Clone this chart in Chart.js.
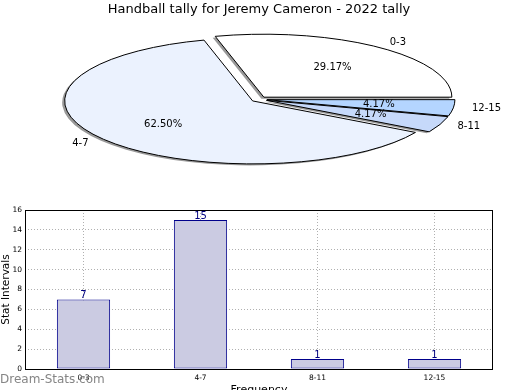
<!DOCTYPE html>
<html>
<head>
<meta charset="utf-8">
<script src="https://cdn.jsdelivr.net/npm/chart.js@4"></script>
<style>
  html, body { margin: 0; padding: 0; background: #fff; }
  body { width: 520px; height: 390px; overflow: hidden; position: relative; }
  canvas { position: absolute; left: 0; }
  #pie { top: 0; }
  #bars { top: 200px; }
</style>
</head>
<body>
<canvas id="pie" width="520" height="200"></canvas>
<canvas id="bars" width="520" height="200"></canvas>
<script>
// --- Data ---
const chartTitle = 'Handball tally for Jeremy Cameron - 2022 tally';
const categories = ['0-3', '4-7', '8-11', '12-15'];
const tally = [7, 15, 1, 1];
const sliceColors = ['#ffffff', '#ebf2fe', '#c6d9fa', '#b4d5ff'];
const yMin = 0;
const yMax = 16;
const yStep = 2;

Chart.defaults.font.family = '"DejaVu Sans", sans-serif';
Chart.defaults.color = '#000';

// pie is squashed like the original (non-equal aspect)
const SQUASH = 0.335;

const pieDraw = {
    id: 'pieDraw',
    beforeDatasetsDraw(chart) {
        const ctx = chart.ctx;
        const meta = chart.getDatasetMeta(0);
        const ds = chart.data.datasets[0];
        const total = ds.data.reduce((a, b) => a + b, 0);

        const wedges = meta.data.map((arc, i) => {
            const p = arc.getProps(['x', 'y', 'startAngle', 'endAngle', 'outerRadius'], true);
            const mid = (p.startAngle + p.endAngle) / 2;
            const off = arc.options.offset;
            return {
                cx: p.x + Math.cos(mid) * off,
                cy: p.y + Math.sin(mid) * off * SQUASH,
                r: p.outerRadius,
                start: p.startAngle,
                end: p.endAngle,
                mid: mid,
                fill: arc.options.backgroundColor,
                value: ds.data[i],
                label: chart.data.labels[i]
            };
        });

        const path = (w, dx, dy) => {
            ctx.beginPath();
            ctx.moveTo(w.cx + dx, w.cy + dy);
            ctx.ellipse(w.cx + dx, w.cy + dy, w.r, w.r * SQUASH, 0, w.start, w.end);
            ctx.closePath();
        };

        ctx.save();
        // shadows go underneath everything
        ctx.fillStyle = 'rgba(70,70,70,0.55)';
        wedges.forEach(w => { path(w, -2.5, 1.5); ctx.fill(); });

        ctx.lineWidth = 1;
        ctx.strokeStyle = '#000';
        wedges.forEach(w => {
            path(w, 0, 0);
            ctx.fillStyle = w.fill;
            ctx.fill();
            ctx.stroke();
        });

        ctx.fillStyle = '#000';
        ctx.font = '10px "DejaVu Sans"';
        ctx.textBaseline = 'middle';
        wedges.forEach(w => {
            const c = Math.cos(w.mid), s = Math.sin(w.mid);
            ctx.textAlign = c > 0 ? 'left' : 'right';
            ctx.fillText(w.label, w.cx + 1.1 * w.r * c, w.cy + 1.1 * w.r * SQUASH * s);
            ctx.textAlign = 'center';
            ctx.fillText((w.value / total * 100).toFixed(2) + '%',
                w.cx + 0.6 * w.r * c, w.cy + 0.6 * w.r * SQUASH * s);
        });
        ctx.restore();
        return false;
    }
};

// slices run counter-clockwise from 3 o'clock in the original,
// chart.js goes clockwise, so feed them reversed
new Chart(document.getElementById('pie'), {
    type: 'pie',
    data: {
        labels: categories.slice().reverse(),
        datasets: [{
            data: tally.slice().reverse(),
            backgroundColor: sliceColors.slice().reverse(),
            offset: 8,
            radius: 188,
            clip: false
        }]
    },
    options: {
        responsive: false,
        animation: false,
        devicePixelRatio: 1,
        rotation: 90,
        layout: { padding: { left: 0, right: 2, top: 0, bottom: 25 } },
        plugins: {
            legend: { display: false },
            tooltip: { enabled: false },
            title: {
                display: true,
                text: chartTitle,
                color: '#000',
                font: { size: 13, weight: 'normal' },
                padding: { top: 2, bottom: 6 }
            }
        }
    },
    plugins: [pieDraw]
});

const barExtras = {
    id: 'barExtras',
    afterDatasetsDraw(chart) {
        const ctx = chart.ctx;
        const meta = chart.getDatasetMeta(0);
        ctx.save();
        ctx.fillStyle = '#000080';
        ctx.font = '10px "DejaVu Sans"';
        ctx.textAlign = 'center';
        ctx.textBaseline = 'bottom';
        meta.data.forEach((bar, i) => {
            ctx.fillText(String(chart.data.datasets[0].data[i]), bar.x, bar.y + 1);
        });
        ctx.restore();
    },
    afterDraw(chart) {
        const ctx = chart.ctx;
        const a = chart.chartArea;
        ctx.save();
        ctx.strokeStyle = '#000';
        ctx.lineWidth = 1;
        ctx.strokeRect(a.left + 0.5, a.top + 0.5, a.right - a.left - 1, a.bottom - a.top);
        // watermark
        ctx.fillStyle = '#858585';
        ctx.font = '12px "DejaVu Sans"';
        ctx.textAlign = 'left';
        ctx.textBaseline = 'middle';
        ctx.fillText('Dream-Stats.com', 0, 180);
        ctx.restore();
    }
};

new Chart(document.getElementById('bars'), {
    type: 'bar',
    data: {
        labels: categories,
        datasets: [{
            data: tally,
            backgroundColor: '#cbcbe2',
            borderColor: '#00008b',
            borderWidth: 1,
            borderSkipped: false,
            barPercentage: 0.455,
            categoryPercentage: 1
        }]
    },
    options: {
        responsive: false,
        animation: false,
        devicePixelRatio: 1,
        layout: { padding: { left: 0, right: 27, top: 10, bottom: 0 } },
        plugins: {
            legend: { display: false },
            tooltip: { enabled: false }
        },
        scales: {
            x: {
                z: 1,
                grid: { offset: false, color: '#b0b0b0', drawTicks: false },
                border: { display: false, dash: [1, 2] },
                ticks: { font: { size: 7.5 }, color: '#000', padding: 5, maxRotation: 0 },
                title: {
                    display: true, text: 'Frequency', color: '#000',
                    font: { size: 11 }, padding: { top: 0, bottom: 3 }
                },
                afterFit: s => { s.height = 31; }
            },
            y: {
                min: yMin,
                max: yMax,
                ticks: { stepSize: yStep, font: { size: 7.5 }, color: '#000', padding: 3 },
                grid: { color: '#b0b0b0', drawTicks: false },
                border: { display: false, dash: [1, 2] },
                title: {
                    display: true, text: 'Stat Intervals', color: '#000',
                    font: { size: 10.5 }, padding: 0
                },
                afterFit: s => { s.width = 25; }
            }
        }
    },
    plugins: [barExtras]
});
</script>
</body>
</html>
